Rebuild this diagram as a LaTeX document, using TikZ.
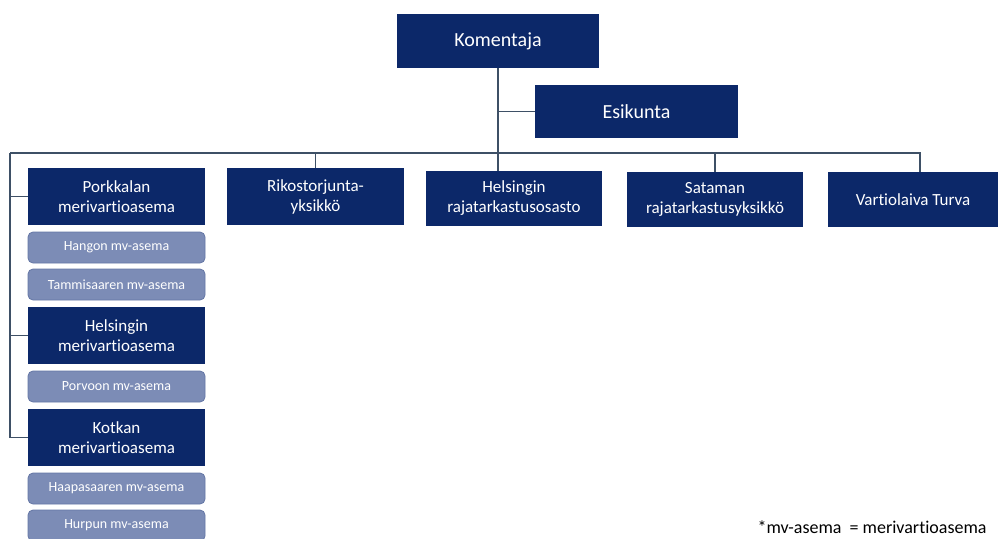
\documentclass[tikz,border=0pt]{standalone}
\usepackage{fontspec}
\setmainfont[Ligatures={NoCommon}]{Carlito}
\definecolor{navy}{RGB}{12,40,105}
\definecolor{mvfill}{RGB}{124,140,182}
\definecolor{mvedge}{RGB}{100,118,165}
\definecolor{linkgray}{RGB}{62,80,102}

\begin{document}
\begin{tikzpicture}[x=1pt,y=-1pt,
   unit/.style={rectangle,fill=navy,text=white,align=center,inner sep=0pt,
     font=\fontsize{17}{20}\selectfont},
   sub/.style={rectangle,rounded corners=5pt,fill=mvfill,draw=mvedge,line width=0.8pt,
     text=white,inner sep=0pt,minimum width=177pt,minimum height=31pt,
     font=\fontsize{14}{16}\selectfont},
   link/.style={draw=linkgray,line width=1.8pt}]
   \clip (0,0) rectangle (1003,538);
   % top
   \node[unit,minimum width=202pt,minimum height=54pt,font=\fontsize{20}{24}\selectfont] (kom) at (498,41) {Komentaja};
   \node[unit,minimum width=203pt,minimum height=53pt,font=\fontsize{20}{24}\selectfont] (esi) at (636.5,111.5) {Esikunta};
   \coordinate (busL) at (10,153);
   \coordinate (busR) at (920,153);
   % second row
   \node[unit,minimum width=177pt,minimum height=57pt] (rik) at (315.5,196.5) {Rikostorjunta-\\yksikkö};
   \node[unit,minimum width=176pt,minimum height=55pt] (hra) at (514,198.5) {Helsingin\\rajatarkastusosasto};
   \node[unit,minimum width=176pt,minimum height=55pt] (sat) at (715,199.5) {Sataman\\rajatarkastusyksikkö};
   \node[unit,minimum width=170pt,minimum height=55pt] (vtt) at (913,199.5) {Vartiolaiva Turva};
   % left column
   \node[unit,minimum width=177pt,minimum height=57pt] (pmv) at (116.5,196.5) {Porkkalan\\merivartioasema};
   \node[sub] (han) at (116.5,247.5) {Hangon mv-asema};
   \node[sub] (tam) at (116.5,284.5) {Tammisaaren mv-asema};
   \node[unit,minimum width=177pt,minimum height=57pt] (hmv) at (116.5,335.5) {Helsingin\\merivartioasema};
   \node[sub] (por) at (116.5,386.5) {Porvoon mv-asema};
   \node[unit,minimum width=177pt,minimum height=57pt] (kmv) at (116.5,437.5) {Kotkan\\merivartioasema};
   \node[sub] (haa) at (116.5,488.5) {Haapasaaren mv-asema};
   \node[sub] (hur) at (116.5,525.5) {Hurpun mv-asema};
   \node[anchor=east,font=\fontsize{18}{21}\selectfont] (note) at (990,527) {*mv-asema\ \ = merivartioasema};
   % connectors
   \draw[link] (kom.south) -- (kom.south |- hra.north);
   \draw[link] (kom.south |- esi.west) -- (esi.west);
   \draw[link] (busL) -- (busR) -- (busR |- vtt.north);
   \draw[link] (rik.north) -- (rik.north |- busL);
   \draw[link] (sat.north) -- (sat.north |- busL);
   \draw[link] (busL) -- (busL |- kmv.west) -- (kmv.west);
   \draw[link] (busL |- pmv.west) -- (pmv.west);
   \draw[link] (busL |- hmv.west) -- (hmv.west);
\end{tikzpicture}
\end{document}
